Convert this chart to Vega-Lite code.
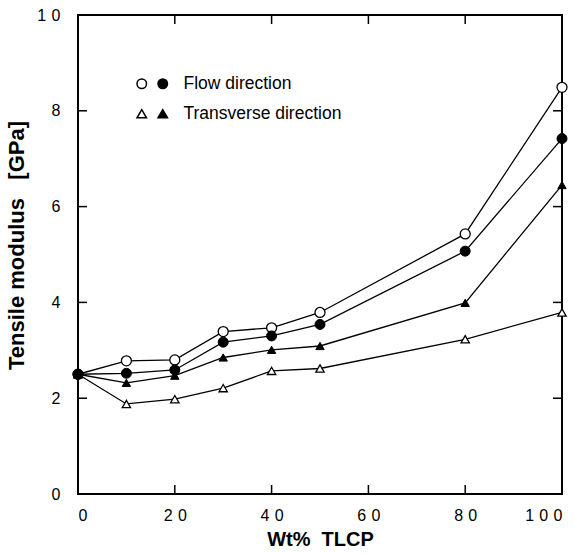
{
  "$schema": "https://vega.github.io/schema/vega-lite/v6.json",
  "autosize": {"type": "none"},
  "width": 484,
  "height": 479,
  "padding": {"left": 78, "top": 15, "right": 19, "bottom": 60},
  "background": "white",
  "config": {
    "view": {"stroke": "black", "strokeWidth": 2},
    "font": "Liberation Sans",
    "axis": {"grid": false, "domain": false, "ticks": false, "labelColor": "black", "titleColor": "black"}
  },
  "datasets": {
    "pts": [
      {"x": 0, "y": 2.5, "direction": "Flow direction", "marker": "open", "series": "a"},
      {"x": 10, "y": 2.78, "direction": "Flow direction", "marker": "open", "series": "a"},
      {"x": 20, "y": 2.8, "direction": "Flow direction", "marker": "open", "series": "a"},
      {"x": 30, "y": 3.39, "direction": "Flow direction", "marker": "open", "series": "a"},
      {"x": 40, "y": 3.47, "direction": "Flow direction", "marker": "open", "series": "a"},
      {"x": 50, "y": 3.79, "direction": "Flow direction", "marker": "open", "series": "a"},
      {"x": 80, "y": 5.43, "direction": "Flow direction", "marker": "open", "series": "a"},
      {"x": 100, "y": 8.49, "direction": "Flow direction", "marker": "open", "series": "a"},
      {"x": 0, "y": 2.5, "direction": "Flow direction", "marker": "filled", "series": "b"},
      {"x": 10, "y": 2.52, "direction": "Flow direction", "marker": "filled", "series": "b"},
      {"x": 20, "y": 2.59, "direction": "Flow direction", "marker": "filled", "series": "b"},
      {"x": 30, "y": 3.17, "direction": "Flow direction", "marker": "filled", "series": "b"},
      {"x": 40, "y": 3.3, "direction": "Flow direction", "marker": "filled", "series": "b"},
      {"x": 50, "y": 3.54, "direction": "Flow direction", "marker": "filled", "series": "b"},
      {"x": 80, "y": 5.07, "direction": "Flow direction", "marker": "filled", "series": "b"},
      {"x": 100, "y": 7.42, "direction": "Flow direction", "marker": "filled", "series": "b"},
      {"x": 0, "y": 2.5, "direction": "Transverse direction", "marker": "filled", "series": "c"},
      {"x": 10, "y": 2.32, "direction": "Transverse direction", "marker": "filled", "series": "c"},
      {"x": 20, "y": 2.47, "direction": "Transverse direction", "marker": "filled", "series": "c"},
      {"x": 30, "y": 2.85, "direction": "Transverse direction", "marker": "filled", "series": "c"},
      {"x": 40, "y": 3.01, "direction": "Transverse direction", "marker": "filled", "series": "c"},
      {"x": 50, "y": 3.09, "direction": "Transverse direction", "marker": "filled", "series": "c"},
      {"x": 80, "y": 3.99, "direction": "Transverse direction", "marker": "filled", "series": "c"},
      {"x": 100, "y": 6.45, "direction": "Transverse direction", "marker": "filled", "series": "c"},
      {"x": 0, "y": 2.5, "direction": "Transverse direction", "marker": "open", "series": "d"},
      {"x": 10, "y": 1.88, "direction": "Transverse direction", "marker": "open", "series": "d"},
      {"x": 20, "y": 1.98, "direction": "Transverse direction", "marker": "open", "series": "d"},
      {"x": 30, "y": 2.21, "direction": "Transverse direction", "marker": "open", "series": "d"},
      {"x": 40, "y": 2.57, "direction": "Transverse direction", "marker": "open", "series": "d"},
      {"x": 50, "y": 2.62, "direction": "Transverse direction", "marker": "open", "series": "d"},
      {"x": 80, "y": 3.23, "direction": "Transverse direction", "marker": "open", "series": "d"},
      {"x": 100, "y": 3.79, "direction": "Transverse direction", "marker": "open", "series": "d"}
    ],
    "xticks": [{"v": 20}, {"v": 40}, {"v": 60}, {"v": 80}],
    "yticks": [{"v": 2}, {"v": 4}, {"v": 6}, {"v": 8}]
  },
  "data": {"name": "pts"},
  "layer": [
    {
      "mark": {"type": "line", "color": "black", "strokeWidth": 1.3},
      "encoding": {
        "x": {"field": "x", "type": "quantitative", "scale": {"domain": [0, 100], "nice": false},
          "axis": {"orient": "bottom", "values": [0, 20, 40, 60, 80, 100], "labelPadding": 13, "labelFontSize": 16, "labelExpr": "replace(datum.label, /(\\d)(?=\\d)/g, '$1\u2004')", "title": "Wt%\u00a0\u00a0TLCP", "titleFontSize": 20, "titleFontWeight": "bold", "titlePadding": 6}},
        "y": {"field": "y", "type": "quantitative", "scale": {"domain": [0, 10], "nice": false},
          "axis": {"orient": "left", "values": [0, 2, 4, 6, 8, 10], "labelPadding": 18, "labelFontSize": 16, "labelExpr": "replace(datum.label, /(\\d)(?=\\d)/g, '$1\u2004')", "title": "Tensile modulus\u00a0\u00a0\u00a0[GPa]", "titleFontSize": 22, "titleFontWeight": "bold", "titleX": -62, "titleY": 230, "titleAlign": "center", "titleBaseline": "middle", "titleAngle": -90}},
        "detail": {"field": "series"}
      }
    },
    {
      "data": {"name": "xticks"},
      "mark": {"type": "tick", "orient": "vertical", "color": "black", "size": 9, "thickness": 1.5, "yOffset": -4.5, "opacity": 1},
      "encoding": {
        "x": {"field": "v", "type": "quantitative"},
        "y": {"datum": 0, "type": "quantitative"}
      }
    },
    {
      "data": {"name": "xticks"},
      "mark": {"type": "tick", "orient": "vertical", "color": "black", "size": 9, "thickness": 1.5, "yOffset": 4.5, "opacity": 1},
      "encoding": {
        "x": {"field": "v", "type": "quantitative"},
        "y": {"datum": 10, "type": "quantitative"}
      }
    },
    {
      "data": {"name": "yticks"},
      "mark": {"type": "tick", "orient": "horizontal", "color": "black", "size": 9, "thickness": 1.5, "xOffset": 4.5, "opacity": 1},
      "encoding": {
        "y": {"field": "v", "type": "quantitative"},
        "x": {"datum": 0, "type": "quantitative"}
      }
    },
    {
      "data": {"name": "yticks"},
      "mark": {"type": "tick", "orient": "horizontal", "color": "black", "size": 9, "thickness": 1.5, "xOffset": -4.5, "opacity": 1},
      "encoding": {
        "y": {"field": "v", "type": "quantitative"},
        "x": {"datum": 100, "type": "quantitative"}
      }
    },
    {
      "transform": [{"filter": "datum.marker == 'open'"}],
      "mark": {"type": "point", "filled": true, "fill": "white", "stroke": "black", "strokeWidth": 1.3, "opacity": 1},
      "encoding": {
        "x": {"field": "x", "type": "quantitative"},
        "y": {"field": "y", "type": "quantitative"},
        "shape": {"field": "direction", "type": "nominal", "scale": {"domain": ["Flow direction", "Transverse direction"], "range": ["circle", "triangle-up"]},
          "legend": {"orient": "none", "legendX": 55, "legendY": 60, "title": null, "labelExpr": "''", "symbolSize": 90, "rowPadding": 11, "padding": 0, "labelFontSize": 17.5,
            "encode": {"symbols": {"update": {"fill": {"value": "white"}, "stroke": {"value": "black"}, "strokeWidth": {"value": 1.2}, "opacity": {"value": 1}}}}}},
        "size": {"condition": {"test": "datum.direction == 'Flow direction'", "value": 100}, "value": 70}
      }
    },
    {
      "transform": [{"filter": "datum.marker == 'filled'"}],
      "mark": {"type": "point", "filled": true, "fill": "black", "stroke": "black", "strokeWidth": 1, "opacity": 1},
      "encoding": {
        "x": {"field": "x", "type": "quantitative"},
        "y": {"field": "y", "type": "quantitative"},
        "shape": {"field": "direction", "type": "nominal", "scale": {"domain": ["Flow direction", "Transverse direction"], "range": ["circle", "triangle-up"]},
          "legend": {"orient": "none", "legendX": 76, "legendY": 60, "title": null, "symbolSize": 90, "rowPadding": 11, "padding": 0, "labelFontSize": 17.5, "labelOffset": 12, "labelColor": "black",
            "encode": {"symbols": {"update": {"fill": {"value": "black"}, "stroke": {"value": "black"}, "opacity": {"value": 1}}}}}},
        "size": {"condition": {"test": "datum.direction == 'Flow direction'", "value": 100}, "value": 70}
      }
    }
  ],
  "resolve": {"scale": {"shape": "independent"}, "legend": {"shape": "independent"}}
}
